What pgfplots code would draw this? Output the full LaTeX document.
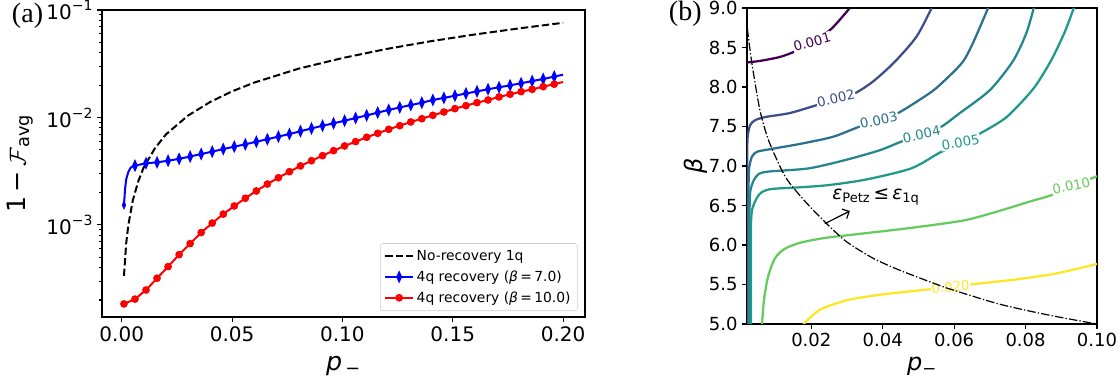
\documentclass[border=0pt]{standalone}
\usepackage{pgfplots}
\pgfplotsset{compat=1.18}
\usepackage{fontspec}
\setmainfont{DejaVu Sans}
\newfontfamily\serifA{Liberation Serif}
\usetikzlibrary{arrows.meta}
\definecolor{c1}{HTML}{440154}
\definecolor{c2}{HTML}{3D4E8A}
\definecolor{c3}{HTML}{2D708E}
\definecolor{c4}{HTML}{24878E}
\definecolor{c5}{HTML}{1F998A}
\definecolor{c10}{HTML}{65CB5E}
\definecolor{c20}{HTML}{FDE725}
\newcommand\spow[1]{10\raisebox{0.45em}{\fontsize{10.5}{10}\selectfont #1}}
\pgfplotsset{
  common/.style={
    scale only axis,
    tick align=outside, tick pos=left,
    axis line style={line width=0.8pt},
    every tick/.style={black, line width=0.8pt},
    major tick length=3.6pt, minor tick length=2.1pt,
    clip=true,
  }
}
\begin{document}
\begin{tikzpicture}
\useasboundingbox (0,0) rectangle (840pt,285.75pt);
% ---------------- (a) ----------------
\begin{axis}[common,
  at={(76.5pt,48pt)}, anchor=south west,
  width=362.25pt, height=230.25pt,
  xmin=-0.00895, xmax=0.20995,
  ymode=log, ymin=1.39e-4, ymax=0.1,
  xtick={0,0.05,0.1,0.15,0.2},
  xticklabels={0.00,0.05,0.10,0.15,0.20},
  ytick={1e-3,1e-2,1e-1},
  yticklabels={\spow{−3},\spow{−2},\spow{−1}},
  minor ytick={2e-4,3e-4,4e-4,5e-4,6e-4,7e-4,8e-4,9e-4,2e-3,3e-3,4e-3,5e-3,6e-3,7e-3,8e-3,9e-3,2e-2,3e-2,4e-2,5e-2,6e-2,7e-2,8e-2,9e-2},
  ticklabel style={font=\fontsize{15}{18}\selectfont},
  xlabel={{\itshape p}\textsubscript{\,−}},
  ylabel={1\,−\,$\mathcal{F}$\textsubscript{avg}},
  label style={font=\fontsize{19}{22}\selectfont},
  xlabel style={at={(axis description cs:0.5,0)}, anchor=base, yshift=-40.2pt},
  ylabel style={at={(axis description cs:-0.1698,0.5)}, anchor=center},
  legend cell align=left,
  legend style={at={(1,0)}, anchor=south east, xshift=-5.6pt, yshift=4.5pt,
    font=\fontsize{10.4}{12}\selectfont, draw=black!20, rounded corners=2pt,
    fill=white, fill opacity=0.8, text opacity=1, inner sep=3pt, row sep=2.2pt},
  legend image code/.code={\draw[mark repeat=2,mark phase=2,#1] plot coordinates {(0pt,0pt) (10.4pt,0pt) (20.8pt,0pt)};},
]
\addplot[black, line width=1.5pt, dash pattern=on 5.5pt off 2.4pt] coordinates {
(0.001,3.35e-4) (0.002,6.7e-4) (0.003,1.0e-3) (0.005,1.69e-3) (0.0075,2.55e-3) (0.01,3.45e-3)
(0.015,5.15e-3) (0.02,6.95e-3) (0.03,1.04e-2) (0.04,1.39e-2) (0.05,1.75e-2) (0.06,2.11e-2)
(0.08,2.84e-2) (0.1,3.57e-2) (0.12,4.34e-2) (0.14,5.12e-2) (0.16,5.92e-2) (0.18,6.74e-2) (0.2,7.6e-2)};
\addlegendentry{No-recovery 1q}
% blue: steep start (line only), first marker, main part
\addplot[blue, line width=1.5pt, forget plot] coordinates {
(0.001,1.53e-3) (0.0015,2.15e-3) (0.002,2.65e-3) (0.003,3.12e-3) (0.004,3.4e-3) (0.005,3.52e-3)
(0.006,3.56e-3)};
\addplot[blue, only marks, mark=diamond*, mark size=3.1pt, mark options={xscale=0.6, solid}, forget plot] coordinates {
(0.001,1.53e-3)};
\addplot[blue, line width=1.5pt, forget plot] coordinates {(0.196,2.40e-2) (0.2,2.50e-2)};
\addplot[blue, line width=1.5pt, mark=diamond*, mark size=3.1pt, mark options={xscale=0.6, solid}] coordinates {
(0.006,3.56e-3) (0.011,3.75e-3) (0.016,3.82e-3) (0.021,3.96e-3) (0.026,4.12e-3) (0.031,4.33e-3)
(0.036,4.57e-3) (0.041,4.81e-3) (0.046,5.08e-3) (0.051,5.35e-3) (0.056,5.62e-3) (0.061,5.95e-3)
(0.066,6.27e-3) (0.071,6.64e-3) (0.076,7.01e-3) (0.081,7.45e-3) (0.086,7.90e-3) (0.091,8.38e-3)
(0.096,8.82e-3) (0.101,9.33e-3) (0.106,9.88e-3) (0.111,1.045e-2) (0.116,1.11e-2) (0.121,1.175e-2)
(0.126,1.24e-2) (0.131,1.305e-2) (0.136,1.37e-2) (0.141,1.455e-2) (0.146,1.52e-2) (0.151,1.595e-2)
(0.156,1.67e-2) (0.161,1.75e-2) (0.166,1.83e-2) (0.171,1.91e-2) (0.176,1.99e-2) (0.181,2.08e-2)
(0.186,2.18e-2) (0.191,2.28e-2) (0.196,2.40e-2)};
\addlegendentry{4q recovery ({\itshape β}\,=\,7.0)}
% red
\addplot[red, line width=1.5pt, forget plot] coordinates {
(0.196,2.04e-2) (0.2,2.14e-2)};
\addplot[red, line width=1.5pt, mark=*, mark size=2.1pt, mark options={solid}] coordinates {
(0.001,1.84e-4) (0.006,2.04e-4) (0.011,2.48e-4) (0.016,3.19e-4) (0.021,4.09e-4) (0.026,5.29e-4)
(0.031,6.70e-4) (0.036,8.49e-4) (0.041,1.04e-3) (0.046,1.26e-3) (0.051,1.50e-3) (0.056,1.77e-3)
(0.061,2.07e-3) (0.066,2.40e-3) (0.071,2.75e-3) (0.076,3.13e-3) (0.081,3.54e-3) (0.086,3.96e-3)
(0.091,4.41e-3) (0.096,4.91e-3) (0.101,5.43e-3) (0.106,5.96e-3) (0.111,6.54e-3) (0.116,7.12e-3)
(0.121,7.76e-3) (0.126,8.39e-3) (0.131,9.08e-3) (0.136,9.74e-3) (0.141,1.047e-2) (0.146,1.124e-2)
(0.151,1.207e-2) (0.156,1.288e-2) (0.161,1.374e-2) (0.166,1.455e-2) (0.171,1.552e-2) (0.176,1.644e-2)
(0.181,1.738e-2) (0.186,1.827e-2) (0.191,1.935e-2) (0.196,2.04e-2)};
\addlegendentry{4q recovery ({\itshape β}\,=\,10.0)}
\end{axis}
% ---------------- (b) ----------------
\begin{axis}[common,
  at={(560.25pt,42.75pt)}, anchor=south west,
  width=262.5pt, height=237pt,
  xmin=0.002, xmax=0.1, ymin=5, ymax=9,
  xtick={0.02,0.04,0.06,0.08,0.1},
  xticklabels={0.02,0.04,0.06,0.08,0.10},
  ytick={5,5.5,6,6.5,7,7.5,8,8.5,9},
  yticklabels={5.0,5.5,6.0,6.5,7.0,7.5,8.0,8.5,9.0},
  ticklabel style={font=\fontsize{13.5}{16}\selectfont},
  xlabel={{\itshape p}\textsubscript{−}},
  ylabel={{\itshape β}},
  label style={font=\fontsize{18}{21}\selectfont},
  xlabel style={at={(axis description cs:0.5,0)}, anchor=base, yshift=-35.25pt},
  ylabel style={at={(axis description cs:-0.1457,0.5)}, anchor=center},
  every axis plot/.append style={smooth, tension=0.45},
]
\addplot[c1, line width=1.7pt] coordinates {
(0.002,8.31) (0.0056,8.33) (0.0112,8.38) (0.0154,8.45) (0.0205,8.57) (0.0257,8.74) (0.0308,9.0)};
\addplot[c2, line width=1.7pt] coordinates {
(0.00205,5.0) (0.00205,6.5) (0.00208,7.2) (0.0022,7.38) (0.0029,7.52) (0.0043,7.58) (0.0071,7.62) (0.014,7.67)
(0.0215,7.77) (0.027,7.84) (0.0322,7.92) (0.0373,8.07) (0.0434,8.32) (0.0495,8.64) (0.0537,9.0)};
\addplot[c3, line width=1.7pt] coordinates {
(0.0024,5.0) (0.0024,6.3) (0.00245,6.8) (0.00265,6.99) (0.0034,7.12) (0.0048,7.18) (0.0081,7.21) (0.0169,7.28)
(0.0261,7.37) (0.0336,7.50) (0.0389,7.57) (0.0443,7.67) (0.0504,7.84) (0.0551,7.99) (0.0621,8.30)
(0.0653,8.56) (0.0695,9.0)};
\addplot[c4, line width=1.7pt] coordinates {
(0.0027,5.0) (0.0027,6.1) (0.00275,6.55) (0.0030,6.70) (0.0039,6.82) (0.0053,6.90) (0.0081,6.93) (0.0193,6.97)
(0.0299,7.08) (0.0392,7.20) (0.0453,7.31) (0.0509,7.39) (0.0565,7.50) (0.0616,7.67) (0.070,7.96)
(0.0765,8.33) (0.0802,8.68) (0.0823,9.0)};
\addplot[c5, line width=1.7pt] coordinates {
(0.0031,5.0) (0.0031,5.9) (0.00315,6.3) (0.0035,6.46) (0.0048,6.60) (0.0062,6.67) (0.009,6.71) (0.0168,6.73)
(0.0252,6.76) (0.0355,6.83) (0.048,6.97) (0.056,7.17) (0.0618,7.29) (0.0672,7.41) (0.0747,7.62)
(0.0822,7.98) (0.0872,8.34) (0.091,8.70) (0.0935,9.0)};
\addplot[c10, line width=1.7pt] coordinates {
(0.0062,5.0) (0.0068,5.32) (0.0079,5.6) (0.0098,5.83) (0.0125,5.95) (0.017,6.03) (0.0239,6.09)
(0.0314,6.13) (0.0392,6.17) (0.0485,6.22) (0.0626,6.31) (0.0718,6.42) (0.0812,6.55) (0.0872,6.63)
(0.0928,6.74) (0.1,6.87)};
\addplot[c20, line width=1.7pt] coordinates {
(0.0178,5.0) (0.0224,5.18) (0.0299,5.30) (0.0392,5.37) (0.0532,5.44) (0.059,5.47) (0.0644,5.50)
(0.0766,5.56) (0.0886,5.64) (0.1,5.76)};
\begin{scope}[every node/.style={fill=white, inner sep=0.6pt, font=\fontsize{10}{12}\selectfont}]
\node[text=c1, rotate=16] at (axis cs:0.0202,8.57) {0.001};
\node[text=c2, rotate=13] at (axis cs:0.0269,7.86) {0.002};
\node[text=c3, rotate=12] at (axis cs:0.0389,7.58) {0.003};
\node[text=c4, rotate=12] at (axis cs:0.0509,7.40) {0.004};
\node[text=c5, rotate=10] at (axis cs:0.0618,7.30) {0.005};
\node[text=c10, rotate=12] at (axis cs:0.0928,6.75) {0.010};
\node[text=c20, rotate=4] at (axis cs:0.059,5.47) {0.020};
\end{scope}
\addplot[black, line width=0.9pt, dash pattern=on 6.4pt off 1.6pt on 1pt off 1.6pt] coordinates {
(0.0021,8.74) (0.0033,8.32) (0.0056,7.71) (0.008,7.33) (0.0117,6.95) (0.014,6.78)
(0.0187,6.53) (0.0243,6.27) (0.0299,6.04) (0.0374,5.83) (0.0448,5.68) (0.0546,5.51) (0.059,5.44)
(0.0728,5.25) (0.0868,5.11) (0.1,5.0)};
\draw[-{Straight Barb[length=4pt,width=8pt]}, line width=0.9pt] (axis cs:0.0238,6.27) -- (axis cs:0.0308,6.43);
\node[anchor=base west, inner sep=0pt, font=\fontsize{14}{16}\selectfont] at (axis cs:0.0258,6.58)
  {{\itshape ε}\textsubscript{Petz}\,≤\,{\itshape ε}\textsubscript{1q}};
\end{axis}
\node[anchor=base west, inner sep=0pt, font=\serifA\fontsize{21}{24}\selectfont] at (8.8pt,269pt) {(a)};
\node[anchor=base west, inner sep=0pt, font=\serifA\fontsize{21}{24}\selectfont] at (501.5pt,270pt) {(b)};
\end{tikzpicture}
\end{document}
